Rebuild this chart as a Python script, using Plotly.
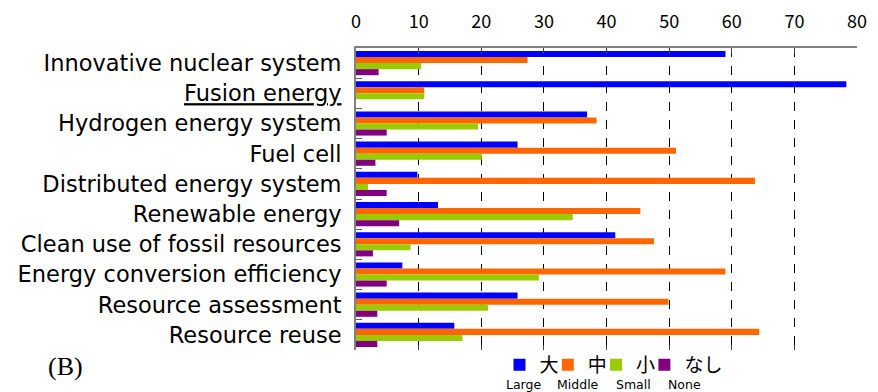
import plotly.graph_objects as go

categories = [
    "Innovative nuclear system",
    "<u>Fusion energy</u>",
    "Hydrogen energy system",
    "Fuel cell",
    "Distributed energy system",
    "Renewable energy",
    "Clean use of fossil resources",
    "Energy conversion efficiency",
    "Resource assessment",
    "Resource reuse",
]
large = [59.0, 78.3, 36.9, 25.8, 9.8, 13.1, 41.4, 7.4, 25.8, 15.7]
middle = [27.4, 10.9, 38.4, 51.1, 63.7, 45.4, 47.6, 59.0, 49.9, 64.4]
small = [10.4, 10.9, 19.5, 20.1, 1.9, 34.6, 8.7, 29.2, 21.1, 17.0]
none_ = [3.6, 0.0, 4.9, 3.1, 4.9, 6.9, 2.7, 4.9, 3.4, 3.4]

series_names = ["大", "中", "小", "なし"]
series_sub = ["Large", "Middle", "Small", "None"]
series_vals = [large, middle, small, none_]
colors = ["#0000FF", "#FF6600", "#99CC00", "#800080"]
x_ticks = [0, 10, 20, 30, 40, 50, 60, 70, 80]

FONT = "Noto Sans CJK JP"
LABEL_FONT = "DejaVu Sans"

fig = go.Figure()
for i, (name, vals, col) in enumerate(zip(series_names, series_vals, colors)):
    fig.add_trace(go.Bar(
        y=categories, x=vals, name=name, orientation="h",
        marker=dict(color=col, line=dict(width=0)),
        legendwidth=40 if i == len(series_names) - 1 else None,
    ))

# empty helper trace so the bottom tick axis (x2) is drawn
fig.add_trace(go.Scatter(x=[], y=[], xaxis="x2", showlegend=False,
                         hoverinfo="skip"))

fig.update_layout(
    width=878, height=392,
    margin=dict(l=356, r=21, t=48, b=42, autoexpand=False),
    paper_bgcolor="white", plot_bgcolor="white",
    barmode="group", bargap=0.2, bargroupgap=0.0,
    font=dict(family=FONT, color="black"),
    xaxis=dict(
        side="top", range=[0, 80], tickvals=x_ticks,
        ticks="inside", ticklen=6, tickcolor="#404040",
        showline=True, linecolor="#808080", linewidth=2,
        showgrid=True, gridcolor="black", griddash="dash", gridwidth=1,
        zeroline=False, tickfont=dict(size=18, family=FONT),
        ticklabelstandoff=11, automargin=False,
    ),
    xaxis2=dict(
        overlaying="x", side="bottom", range=[0, 80], tickvals=x_ticks,
        ticks="inside", ticklen=5, tickcolor="#404040",
        showticklabels=False, showline=False, showgrid=False, zeroline=False,
        automargin=False,
    ),
    yaxis=dict(
        autorange="reversed", ticks="inside", tickson="boundaries",
        ticklen=6, tickcolor="#606060",
        showline=True, linecolor="#808080", linewidth=2,
        showgrid=False, zeroline=False, automargin=False,
        tickfont=dict(size=22.5, family=LABEL_FONT), ticklabelstandoff=8,
    ),
    legend=dict(
        orientation="h", x=0.2864, xanchor="left", y=4 / 302, yanchor="top",
        font=dict(size=19, family=FONT), entrywidth=3.3,
        itemwidth=30, tracegroupgap=0, bgcolor="rgba(0,0,0,0)",
    ),
    showlegend=True,
)

sub_centers = [523, 578, 633, 684]
for sub, cx in zip(series_sub, sub_centers):
    fig.add_annotation(
        text=sub, xref="paper", yref="paper",
        x=(cx - 356) / 501, y=-34 / 302, yanchor="middle", xanchor="center",
        showarrow=False, font=dict(size=12.5, family=LABEL_FONT),
    )

fig.add_annotation(
    text="(B)", xref="paper", yref="paper", x=(65 - 356) / 501, y=-16 / 302,
    xanchor="center", yanchor="middle", showarrow=False,
    font=dict(size=26, family="Liberation Serif"),
)

fig.write_html("out.html", config={"displayModeBar": False},
               post_script="document.body.style.margin='0';")
